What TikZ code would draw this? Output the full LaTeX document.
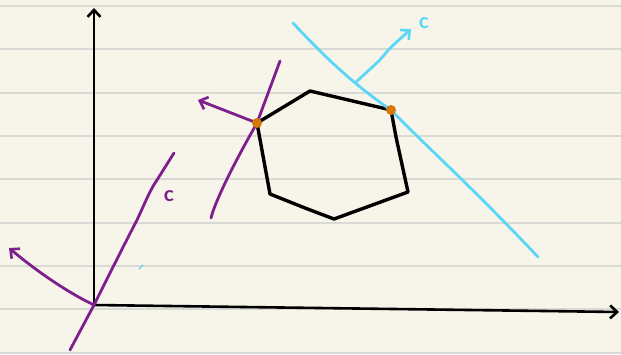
\documentclass[tikz,border=0pt]{standalone}
\usepackage{fontspec}
\setmainfont{Lato}
\usetikzlibrary{arrows.meta}
\definecolor{paper}{HTML}{F7F5EA}
\definecolor{rule}{HTML}{D9D9D6}
\definecolor{purp}{HTML}{7E1F8E}
\definecolor{cyanl}{HTML}{5CD6F7}
\definecolor{orng}{HTML}{D5760A}
\tikzset{
  ink/.style={line width=2.8pt, line cap=round, line join=round},
  barb/.style={-{Straight Barb[length=7pt,width=13pt,line width=2.6pt]}},
  dotpt/.style={circle, fill=orng, inner sep=0pt, minimum size=10pt},
  lbl/.style={font=\bfseries\fontsize{21}{21}\selectfont, inner sep=0pt}
}
\begin{document}
\begin{tikzpicture}[x=1pt,y=-1pt]
\useasboundingbox (0,0) rectangle (621,354);
\fill[paper] (0,0) rectangle (621,354);
\foreach \yy in {6,49.3,92.7,136,179.3,222.7,266,309.3,352.7}
  \draw[rule, line width=2pt] (0,\yy) -- (621,\yy);

% coordinates
\coordinate (O) at (94,305);
\coordinate (ytop) at (94,8);
\coordinate (xend) at (619,312);
\coordinate (P1) at (257,123);
\coordinate (P2) at (391,110);
\coordinate (H2) at (310,91);
\coordinate (H4) at (408,192);
\coordinate (H5) at (334,219);
\coordinate (H6) at (270,194);

% axes
\draw[ink, black, line width=2.6pt, barb] (O) -- (ytop);
\draw[ink, black, line width=2.6pt, barb] (O) -- (xend);

% purple line through origin
\draw[ink, purp] (70,350) -- (O) .. controls (105,283) and (125,243) .. (137,220) .. controls (145,203) and (150,190) .. (157,180) -- (174,153);
\node[lbl, text=purp] (cp) at (169,196) {c};
\draw[ink, purp, barb] (O) .. controls (75,296) and (45,278) .. (9,248);

% tiny cyan tick
\draw[cyanl, line width=1.4pt, line cap=round] (139,269) -- (143,265);

% hexagon
\draw[ink, black, line width=3.4pt] (P1) -- (H2) -- (P2) -- (396,137) -- (H4) -- (H5) -- (305,208) -- (H6) -- cycle;

% purple supporting line
\draw[ink, purp] (211,218) .. controls (214,205) and (230,170) .. (P1) -- (280,61);
\draw[ink, purp, barb] (P1) -- (198,100);

% cyan supporting line
\draw[ink, cyanl] (293,23) .. controls (320,52) and (350,82) .. (P2) .. controls (430,150) and (470,185) .. (538,257);
\draw[ink, cyanl, barb, rounded corners=4pt] (356,82) -- (380,60) -- (390,48) -- (411,29);
\node[lbl, text=cyanl] (cc) at (424,23) {c};

% orange points
\node[dotpt] (d1) at (P1) {};
\node[dotpt] (d2) at (P2) {};
\end{tikzpicture}
\end{document}
